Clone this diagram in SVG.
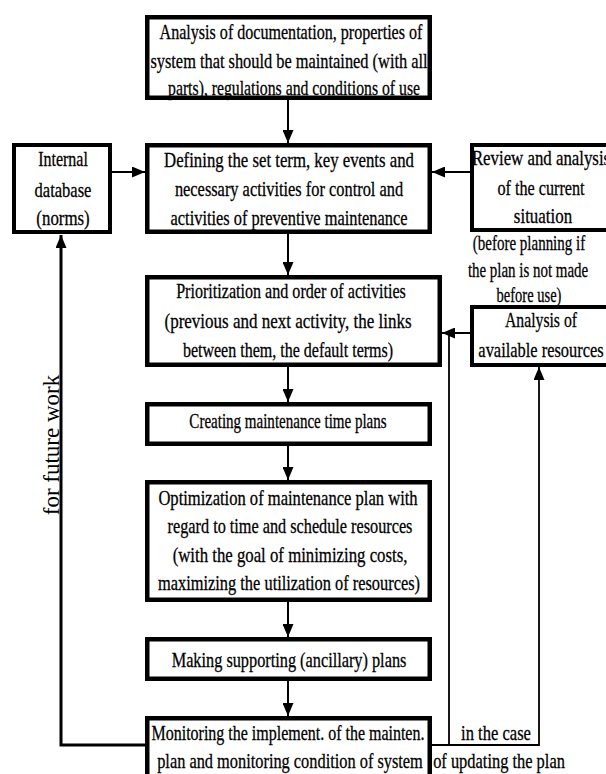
<svg xmlns="http://www.w3.org/2000/svg" width="606" height="774" viewBox="0 0 606 774">
<style>
.box{fill:#fff;stroke:#000;stroke-width:4.5}
.sbox{fill:#fff;stroke:#000;stroke-width:4}
.t{font-family:"Liberation Serif","Times New Roman",serif;font-size:22px;text-anchor:middle;fill:#000;stroke:#000;stroke-width:0.3}
.conn{fill:none;stroke:#000;stroke-width:2}
.loopL{fill:none;stroke:#000;stroke-width:3}
.loopR{fill:none;stroke:#000;stroke-width:1.8}
.side{font-family:"Liberation Serif","Times New Roman",serif;font-size:23px;text-anchor:middle;fill:#000}
</style>
<defs>
<marker id="ah" markerUnits="userSpaceOnUse" markerWidth="13" markerHeight="11" refX="13" refY="5.5" orient="auto">
<path d="M0,0 L13,5.5 L0,11 Z" fill="#000"/>
</marker>
</defs>
<rect x="0" y="0" width="606" height="774" fill="#fff"/>

<g id="connectors">
<line class="conn" x1="288" y1="100" x2="288" y2="143" marker-end="url(#ah)"/>
<line class="conn" x1="288" y1="234" x2="288" y2="275" marker-end="url(#ah)"/>
<line class="conn" x1="288" y1="367" x2="288" y2="402" marker-end="url(#ah)"/>
<line class="conn" x1="288" y1="446" x2="288" y2="480" marker-end="url(#ah)"/>
<line class="conn" x1="288" y1="602" x2="288" y2="637" marker-end="url(#ah)"/>
<line class="conn" x1="288" y1="681" x2="288" y2="716" marker-end="url(#ah)"/>
<line class="conn" x1="112" y1="172" x2="145" y2="172" marker-end="url(#ah)"/>
<line class="conn" x1="470" y1="172" x2="432" y2="172" marker-end="url(#ah)"/>
<line class="conn" x1="470" y1="333" x2="442" y2="333" marker-end="url(#ah)"/>
<polyline class="loopL" points="145,745 61,745 61,235" marker-end="url(#ah)"/>
<polyline class="loopR" points="432,745 539,745 539,367" marker-end="url(#ah)"/>
<line class="loopR" x1="449" y1="745" x2="449" y2="333"/>
<text class="side" transform="translate(59,445) rotate(-90)">for future work</text>
<text class="t" transform="translate(496,740) scale(0.72,1)" textLength="97" lengthAdjust="spacingAndGlyphs">in the case</text>
<text class="t" transform="translate(499,768) scale(0.72,1)" textLength="183" lengthAdjust="spacingAndGlyphs">of updating the plan</text>
</g>

<g id="analysis">
<rect class="box" x="147.25" y="17.25" width="282.5" height="80.5"/>
<text class="t" transform="translate(291,39) scale(0.72,1)" textLength="365" lengthAdjust="spacingAndGlyphs">Analysis of documentation, properties of</text>
<text class="t" transform="translate(289,68) scale(0.72,1)" textLength="385" lengthAdjust="spacingAndGlyphs">system that should be maintained (with all</text>
<text class="t" transform="translate(294,95) scale(0.72,1)" textLength="350" lengthAdjust="spacingAndGlyphs">parts), regulations and conditions of use</text>
</g>

<g id="defining">
<rect class="box" x="147.25" y="145.25" width="282.5" height="86.5"/>
<text class="t" transform="translate(289,167) scale(0.72,1)" textLength="347" lengthAdjust="spacingAndGlyphs">Defining the set term, key events and</text>
<text class="t" transform="translate(289,196) scale(0.72,1)" textLength="317" lengthAdjust="spacingAndGlyphs">necessary activities for control and</text>
<text class="t" transform="translate(289,225) scale(0.72,1)" textLength="329" lengthAdjust="spacingAndGlyphs">activities of preventive maintenance</text>
</g>

<g id="internal">
<rect class="sbox" x="14" y="145" width="96" height="87"/>
<text class="t" transform="translate(63,166) scale(0.72,1)" textLength="69" lengthAdjust="spacingAndGlyphs">Internal</text>
<text class="t" transform="translate(63,197) scale(0.72,1)" textLength="79" lengthAdjust="spacingAndGlyphs">database</text>
<text class="t" transform="translate(63,225) scale(0.72,1)" textLength="74" lengthAdjust="spacingAndGlyphs">(norms)</text>
</g>

<g id="review">
<rect class="sbox" x="472" y="145" width="140" height="85"/>
<text class="t" transform="translate(541,165) scale(0.72,1)" textLength="192" lengthAdjust="spacingAndGlyphs">Review and analysis</text>
<text class="t" transform="translate(541,195) scale(0.72,1)" textLength="121" lengthAdjust="spacingAndGlyphs">of the current</text>
<text class="t" transform="translate(543,223) scale(0.72,1)" textLength="81" lengthAdjust="spacingAndGlyphs">situation</text>
<text class="t" transform="translate(529,250) scale(0.72,1)" textLength="156" lengthAdjust="spacingAndGlyphs">(before planning if</text>
<text class="t" transform="translate(528,277) scale(0.72,1)" textLength="167" lengthAdjust="spacingAndGlyphs">the plan is not made</text>
<text class="t" transform="translate(529,302) scale(0.72,1)" textLength="90" lengthAdjust="spacingAndGlyphs">before use)</text>
</g>

<g id="prioritization">
<rect class="box" x="147.25" y="277.25" width="292.5" height="87.5"/>
<text class="t" transform="translate(291,298) scale(0.72,1)" textLength="319" lengthAdjust="spacingAndGlyphs">Prioritization and order of activities</text>
<text class="t" transform="translate(288,328) scale(0.72,1)" textLength="343" lengthAdjust="spacingAndGlyphs">(previous and next activity, the links</text>
<text class="t" transform="translate(288,357) scale(0.72,1)" textLength="292" lengthAdjust="spacingAndGlyphs">between them, the default terms)</text>
</g>

<g id="resources">
<rect class="sbox" x="472" y="307" width="140" height="58"/>
<text class="t" transform="translate(541,327) scale(0.72,1)" textLength="100" lengthAdjust="spacingAndGlyphs">Analysis of</text>
<text class="t" transform="translate(541,357) scale(0.72,1)" textLength="174" lengthAdjust="spacingAndGlyphs">available resources</text>
</g>

<g id="creating">
<rect class="box" x="147.25" y="404.25" width="282.5" height="39.5"/>
<text class="t" transform="translate(288,428) scale(0.72,1)" textLength="274" lengthAdjust="spacingAndGlyphs">Creating maintenance time plans</text>
</g>

<g id="optimization">
<rect class="box" x="147.25" y="482.25" width="282.5" height="117.5"/>
<text class="t" transform="translate(288,505) scale(0.72,1)" textLength="360" lengthAdjust="spacingAndGlyphs">Optimization of maintenance plan with</text>
<text class="t" transform="translate(290,533) scale(0.72,1)" textLength="340" lengthAdjust="spacingAndGlyphs">regard to time and schedule resources</text>
<text class="t" transform="translate(290,562) scale(0.72,1)" textLength="326" lengthAdjust="spacingAndGlyphs">(with the goal of minimizing costs,</text>
<text class="t" transform="translate(289,590) scale(0.72,1)" textLength="364" lengthAdjust="spacingAndGlyphs">maximizing the utilization of resources)</text>
</g>

<g id="making">
<rect class="box" x="147.25" y="639.25" width="282.5" height="39.5"/>
<text class="t" transform="translate(289,667) scale(0.72,1)" textLength="326" lengthAdjust="spacingAndGlyphs">Making supporting (ancillary) plans</text>
</g>

<g id="monitoring">
<rect class="box" x="147.25" y="718.25" width="282.5" height="80"/>
<text class="t" transform="translate(288,740) scale(0.72,1)" textLength="379" lengthAdjust="spacingAndGlyphs">Monitoring the implement. of the mainten.</text>
<text class="t" transform="translate(290,768) scale(0.72,1)" textLength="369" lengthAdjust="spacingAndGlyphs">plan and monitoring condition of system</text>
</g>
</svg>
